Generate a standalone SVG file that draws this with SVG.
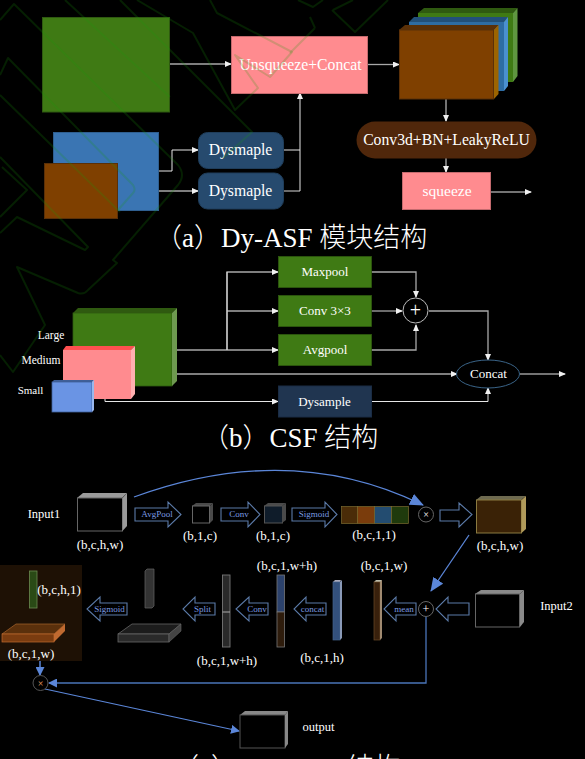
<svg xmlns="http://www.w3.org/2000/svg" width="585" height="759" viewBox="0 0 585 759">
<style>
text{font-family:"Liberation Serif","Noto Sans CJK SC",serif;fill:#fff;text-anchor:middle}
.cap{font-size:27px;text-anchor:start;font-weight:300}
.w{fill:none;stroke:#e6e6e6;stroke-width:1}
.g{fill:none;stroke:#a8a8a8;stroke-width:1.3}
.b{fill:none;stroke:#4a74b8;stroke-width:1.3}
.bg{fill:none;stroke:#1a9a0a;stroke-width:2;opacity:.2;stroke-linejoin:round}
.ar{fill:#000;stroke:#5b7aa8;stroke-width:1.1}
.dim{font-size:13px}
.arl{font-size:9px;fill:#7a9be0}
.gn{fill:#3f7a14;stroke:#2f5a10;stroke-width:.8}
.lb{font-size:13px}
</style>
<defs>
<marker id="wa" markerWidth="7" markerHeight="6" refX="6" refY="3" orient="auto" markerUnits="userSpaceOnUse"><path d="M0 0L7 3L0 6Z" fill="#f0f0f0"/></marker>
<marker id="ba" markerWidth="9" markerHeight="9" refX="8" refY="4.5" orient="auto" markerUnits="userSpaceOnUse"><path d="M0 0L9 4.5L0 9Z" fill="#5b86d8"/></marker>
<marker id="bl" markerWidth="14" markerHeight="12" refX="13" refY="6" orient="auto" markerUnits="userSpaceOnUse"><path d="M0 0L14 6L0 12Z" fill="#5b86d8"/></marker>
</defs>
<rect width="585" height="759" fill="#000"/>
<g id="connectors">
<path class="g" d="M169 64H231" marker-end="url(#wa)"/>
<path class="w" d="M158 171H172V150H198" marker-end="url(#wa)"/>
<path class="g" d="M117 191H198" marker-end="url(#wa)"/>
<path class="w" d="M283 150H300"/>
<path class="g" d="M283 191H300"/>
<path class="w" d="M300 191V93" marker-end="url(#wa)"/>
<path class="g" d="M367 64.500H399" marker-end="url(#wa)"/>
<path class="w" d="M446 99V121" marker-end="url(#wa)"/>
<path class="w" d="M446 158V172" marker-end="url(#wa)"/>
<path class="w" d="M490 192H531" marker-end="url(#wa)"/>
<path class="g" d="M171 350H278" marker-end="url(#wa)"/>
<path class="g" d="M227 350V272H278" marker-end="url(#wa)"/>
<path class="g" d="M227 311H278" marker-end="url(#wa)"/>
<path class="w" d="M227 350V272"/>
<path class="g" d="M371 272H416V297" marker-end="url(#wa)"/>
<path class="g" d="M371 311H402" marker-end="url(#wa)"/>
<path class="g" d="M371 350H416V325" marker-end="url(#wa)"/>
<path class="g" d="M429 311H488V360" marker-end="url(#wa)"/>
<path class="g" d="M130 374H457" marker-end="url(#wa)"/>
<path class="w" d="M91 397H105V401.500H278" marker-end="url(#wa)"/>
<path class="w" d="M371 401.500H488V388" marker-end="url(#wa)"/>
<path class="w" d="M520 374H565" marker-end="url(#wa)"/>
<path d="M134 497Q290 440 423 505" fill="none" stroke="#5b86d8" stroke-width="1.300" marker-end="url(#bl)"/>
<path d="M469 535L431 591" fill="none" stroke="#5b86d8" stroke-width="1.300" marker-end="url(#bl)"/>
<path class="b" d="M426 617V683H49" marker-end="url(#ba)"/>
<path d="M40 661V675" fill="none" stroke="#5b86d8" stroke-width="1.500" marker-end="url(#ba)"/>
<path d="M45 689L239 731" fill="none" stroke="#5b86d8" stroke-width="1.200" marker-end="url(#ba)"/>
</g>
<g id="a-green"><rect x="42.500" y="17.500" width="127" height="94.500" fill="#3f7a14" stroke="#2f5a10"/></g>
<g id="a-blue"><rect x="53.500" y="132.500" width="105" height="78" fill="#3a75b3" stroke="#2f5f90"/></g>
<g id="a-brown"><rect x="44.500" y="163.500" width="73" height="55" fill="#7f4000" stroke="#5a3008"/></g>
<g id="a-unsqueeze"><rect x="231.500" y="36.500" width="136" height="57" fill="#ff8b8f" stroke="#c46a6e"/><text x="300.500" y="69.500" font-size="15.700">Unsqueeze+Concat</text></g>
<g id="a-dys1"><rect x="198.500" y="132.500" width="85" height="36" rx="9" fill="#264a6e" stroke="#1f3d5a"/><text x="240.500" y="155" font-size="15.700">Dysmaple</text></g>
<g id="a-dys2"><rect x="198.500" y="173" width="85" height="36" rx="9" fill="#264a6e" stroke="#1f3d5a"/><text x="240.500" y="196" font-size="15.700">Dysmaple</text></g>
<g id="a-stack">
<path d="M418 13L424 8H517.500L513 13Z" fill="#2f5a10"/><rect x="418" y="13" width="95" height="69" fill="#3f7a14"/><path d="M513 13L517.500 8V76L513 82Z" fill="#5f9640"/>
<path d="M409 22L414 17H508L504 22Z" fill="#22507a"/><rect x="409" y="22" width="95" height="69" fill="#2e6da4"/><path d="M504 22L508 17V86L504 91Z" fill="#4a90d0"/>
<path d="M399 30L405 25H498.500L494 30Z" fill="#5a3008"/><rect x="399.500" y="30" width="94" height="69" fill="#7f4000" stroke="#5a3008"/><path d="M494 30L498.500 25V94L494 99Z" fill="#9c6400"/>
</g>
<g id="a-conv"><rect x="356.500" y="121.500" width="180" height="37" rx="18.500" fill="#50270b"/><text x="446.500" y="145" font-size="15.700">Conv3d+BN+LeakyReLU</text></g>
<g id="a-squeeze"><rect x="402.500" y="172.500" width="88" height="37" fill="#ff8b8f" stroke="#c46a6e"/><text x="447" y="196" font-size="15.500">squeeze</text></g>
<text id="cap-a" class="cap" x="155" y="247">（a）Dy-ASF 模块结构</text>
<g id="b-large"><path d="M73 313L78 308H177L172 313Z" fill="#2f5a10"/><rect x="73" y="313" width="99" height="73" class="gn"/><path d="M172 313L177 308V381L172 386Z" fill="#6e9a50"/></g>
<g id="b-medium"><path d="M63 350L66 346H135L131 350Z" fill="#ff5050"/><rect x="63" y="350" width="68" height="49" fill="#ff8b8f"/><path d="M131 350L135 346V394L131 399Z" fill="#ffb0b0"/></g>
<g id="b-small"><path d="M52 382L54 380H94L92 382Z" fill="#3f5f98"/><rect x="52" y="382" width="40" height="30" fill="#6a94e4" stroke="#3f5f98" stroke-width=".8"/><path d="M92 382L94 380V410L92 412Z" fill="#9ab8ee"/></g>
<text x="51" y="339" font-size="11.500">Large</text>
<text x="41" y="364" font-size="11.500">Medium</text>
<text x="30.500" y="394" font-size="11">Small</text>
<g id="b-max"><rect x="278.500" y="256.500" width="93" height="31" class="gn"/><text class="lb" x="325" y="276">Maxpool</text></g>
<g id="b-conv"><rect x="278.500" y="295.500" width="93" height="31" class="gn"/><text class="lb" x="325" y="315">Conv 3×3</text></g>
<g id="b-avg"><rect x="278.500" y="334.500" width="93" height="31" class="gn"/><text class="lb" x="325" y="354">Avgpool</text></g>
<g id="b-plus"><circle cx="415.500" cy="310.500" r="12.500" fill="#000" stroke="#bbb"/><text x="415.500" y="316.500" font-size="20">+</text></g>
<g id="b-concat"><ellipse cx="488" cy="374" rx="31.500" ry="14" fill="#000" stroke="#3a6488"/><text class="lb" x="488.500" y="378">Concat</text></g>
<g id="b-dys"><rect x="278.500" y="386" width="93" height="31" fill="#203550" stroke="#1a2c44"/><text class="lb" x="324.500" y="406">Dysample</text></g>
<text id="cap-b" class="cap" x="202" y="447">（b）CSF 结构</text>
<g id="c-input1"><path d="M77 498L83 493H127L122 498Z" fill="#9a9a9a"/><rect x="77.500" y="498" width="45" height="33" fill="#000" stroke="#666"/><path d="M122.500 498L127 493V526L122.500 531Z" fill="#9a9a9a"/></g>
<text x="44" y="518" font-size="12.500">Input1</text>
<text class="dim" x="100" y="549">(b,c,h,w)</text>
<g id="c-arrow1"><path class="ar" d="M135 508H168V502L181 514.500L168 527V521H135Z"/><text class="arl" x="157" y="516.500">AvgPool</text></g>
<g id="c-cube1"><path d="M192 506L196 503H213L210 506Z" fill="#4a4a4a"/><rect x="192.500" y="506" width="17" height="17" fill="#000" stroke="#666"/><path d="M210 506L213 503V520L210 523Z" fill="#4a4a4a"/></g>
<text class="dim" x="200" y="540">(b,1,c)</text>
<g id="c-arrow2"><path class="ar" d="M221 508H248V502L260 514.500L248 527V521H221Z"/><text class="arl" x="239" y="516.500">Conv</text></g>
<g id="c-cube2"><path d="M264 506L268 503H286L282 506Z" fill="#4a4a4a"/><rect x="264.500" y="506" width="18" height="17" fill="#0f1c2a" stroke="#555"/><path d="M282 506L286 503V520L282 523Z" fill="#4a4a4a"/></g>
<text class="dim" x="273" y="540">(b,1,c)</text>
<g id="c-arrow3"><path class="ar" d="M292 508H325V502L337 514.500L325 527V521H292Z"/><text class="arl" x="314" y="516.500">Sigmoid</text></g>
<g id="c-bar"><rect x="341.500" y="506.500" width="16" height="17" fill="#4a2c08" stroke="#7a6a30" stroke-width=".7"/><rect x="357.500" y="506.500" width="17" height="17" fill="#7a3c0c" stroke="#7a6a30" stroke-width=".7"/><rect x="374.500" y="506.500" width="17" height="17" fill="#234c70" stroke="#7a6a30" stroke-width=".7"/><rect x="391.500" y="506.500" width="17" height="17" fill="#1f3a0c" stroke="#7a6a30" stroke-width=".7"/></g>
<text class="dim" x="374" y="539">(b,c,1,1)</text>
<g id="c-times1"><circle cx="426" cy="514.500" r="7.500" fill="#000" stroke="#666"/><text x="426" y="518" font-size="10">×</text></g>
<g id="c-arrow4"><path class="ar" d="M440 510H459V503L472 514.500L459 527V521H440Z"/></g>
<g id="c-result"><path d="M476 500L481 496H526L521 500Z" fill="#6e6a50"/><rect x="476.500" y="500" width="45" height="33" fill="#3a2206" stroke="#8a7a40"/><path d="M521.500 500L526 496V529L521.500 533Z" fill="#b09a5a"/></g>
<text class="dim" x="500" y="550">(b,c,h,w)</text>
<g id="c-input2"><path d="M475 594L481 590H524L520 594Z" fill="#8a8a8a"/><rect x="475.500" y="594" width="44" height="33" fill="#000" stroke="#666"/><path d="M520 594L524 590V622L520 627Z" fill="#8a8a8a"/></g>
<text x="556.500" y="610" font-size="12.500">Input2</text>
<g id="c-arrow5"><path class="ar" d="M469 603H448V597L436 609L448 621V615H469Z"/></g>
<g id="c-plus"><circle cx="426" cy="609" r="7.500" fill="#000" stroke="#666"/><text x="426" y="613" font-size="12">+</text></g>
<g id="c-arrow6"><path class="ar" d="M416 603H396V597L384 609L396 621V615H416Z"/><text class="arl" x="404" y="612">mean</text></g>
<g id="c-col1"><path d="M374 582L376 580H382L381 582Z" fill="#bba"/><rect x="374" y="582" width="6" height="58" fill="#38200c" stroke="#6a4a2a" stroke-width=".7"/><path d="M380 582L382 580V638L380 640Z" fill="#a08a70"/></g>
<text class="dim" x="384" y="570">(b,c,1,w)</text>
<g id="c-arrow7"><path class="ar" d="M326 603H306V597L294 609L306 621V615H326Z"/><text class="arl" x="312.500" y="612">concat</text></g>
<g id="c-col2"><path d="M333 582L335 580H341L340 582Z" fill="#aab"/><rect x="333" y="582" width="7" height="58" fill="#33507c" stroke="#44628a" stroke-width=".7"/><path d="M340 582L342 580V638L340 640Z" fill="#8a9ab8"/></g>
<text class="dim" x="322" y="662">(b,c,1,h)</text>
<g id="c-col3"><rect x="277" y="575" width="7.500" height="37" fill="#2c426c" stroke="#777" stroke-width=".8"/><rect x="277" y="612" width="7.500" height="35" fill="#2e1c0c" stroke="#777" stroke-width=".8"/></g>
<text class="dim" x="287" y="570">(b,c,1,w+h)</text>
<g id="c-arrow8"><path class="ar" d="M268 603H249V597L236 609L249 621V615H268Z"/><text class="arl" x="257" y="612">Conv</text></g>
<g id="c-col4"><rect x="222.500" y="575" width="7.500" height="72" fill="#2a2a2a" stroke="#777" stroke-width=".9"/><path d="M222.500 612H230" stroke="#aaa"/></g>
<text class="dim" x="227" y="665">(b,c,1,w+h)</text>
<g id="c-arrow9"><path class="ar" d="M215 603H195V597L183 609L195 621V615H215Z"/><text class="arl" x="202.500" y="612">Split</text></g>
<g id="c-planes"><path d="M145 571L147 569H154V606L152 608H145Z" fill="#333" stroke="#666" stroke-width=".7"/><path d="M118 634L132 624H181L169 634Z" fill="#1c1c1c" stroke="#666" stroke-width=".8"/><rect x="118" y="634" width="51" height="8" fill="#2a2a2a" stroke="#666" stroke-width=".8"/><path d="M169 634L181 624V631L169 642Z" fill="#444" stroke="#666" stroke-width=".6"/></g>
<g id="c-arrow10"><path class="ar" d="M127 603H100V597L87 609L100 621V615H127Z"/><text class="arl" x="109.500" y="612">Sigmoid</text></g>
<g id="c-panel"><rect x="0" y="565" width="82" height="96" fill="#1e1105"/><rect x="29.500" y="571" width="7.500" height="37" fill="#2a4a16" stroke="#6a8a50" stroke-width=".8"/><path d="M2 634L16 624H65L54 634Z" fill="#5a300c" stroke="#a8642c" stroke-width=".7"/><rect x="2" y="634" width="52" height="8" fill="#7a3c10" stroke="#c06a30" stroke-width=".7"/><path d="M54 634L65 624V631L54 642Z" fill="#c06a30"/></g>
<text class="dim" x="59" y="594">(b,c,h,1)</text>
<text class="dim" x="31" y="658">(b,c,1,w)</text>
<g id="c-times2"><circle cx="40.500" cy="683" r="7.500" fill="#000" stroke="#555"/><text x="40.500" y="687" font-size="10" style="fill:#f0a060">×</text></g>
<g id="c-output"><path d="M240 715L245 711H288L285 715Z" fill="#888"/><rect x="240" y="715" width="45" height="33" fill="#000" stroke="#555"/><path d="M285 715L288 711V744L285 748Z" fill="#888"/></g>
<text x="318.500" y="731" font-size="12.500">output</text>
<text id="cap-c" class="cap" x="172" y="777">（c）Attention 结构</text>
<g id="background-lines">
<path class="bg" d="M0 20L14 4L178 165Q186 175 178 185L113 260L117 263L88 290Q84 295 78 293L17 267L45 325L13 372L0 355"/>
<path class="bg" d="M0 75L8 58L133 185Q136 190 133 193L118 210"/>
<path class="bg" d="M65 0L170 97M120 0L252 132L223 158"/>
<path class="bg" d="M137 0L193 33L235 110L258 88L235 55L270 77L292 52L217 13L210 0"/>
<path class="bg" d="M0 95L120 212M0 157L88 247L85 250L17 217L0 233M2 167L27 190L0 217"/>
<path class="bg" d="M315 28L290 53M332 10L355 32L388 0M333 10L353 0M298 0L313 7L323 0M310 17L315 28"/>
</g>
</svg>
